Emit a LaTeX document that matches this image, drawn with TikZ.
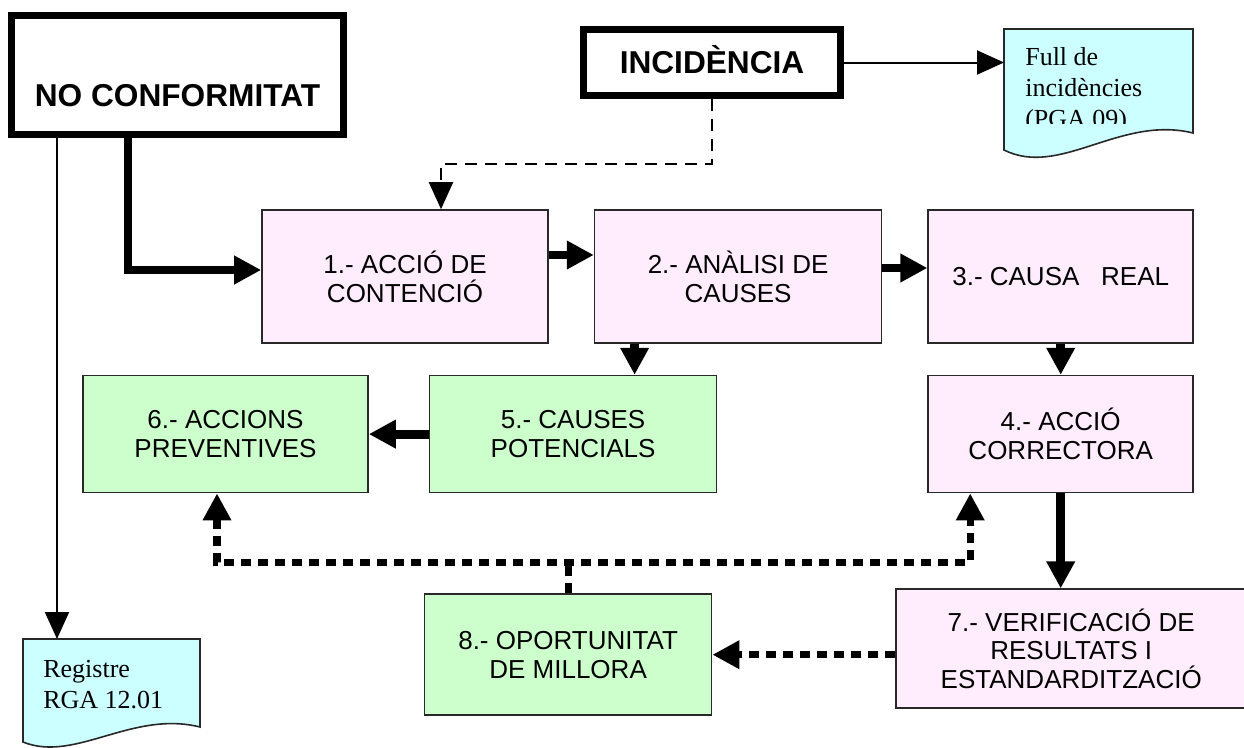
\documentclass[tikz,border=0pt]{standalone}
\usepackage{fontspec}
\setmainfont{Liberation Sans}
\newfontfamily\docserif{Liberation Serif}
\usepackage{tikz}
\usetikzlibrary{arrows.meta, positioning}
\definecolor{boxpink}{RGB}{255,236,252}
\definecolor{boxgreen}{RGB}{204,255,204}
\definecolor{doccyan}{RGB}{204,255,255}
\definecolor{edgegray}{RGB}{40,40,40}
\tikzset{
  stepbox/.style={rectangle, draw=edgegray, line width=0.04cm, align=center,
    font=\fontsize{18.5}{20.5}\selectfont, inner sep=2pt},
  pinkbox/.style={stepbox, fill=boxpink},
  greenbox/.style={stepbox, fill=boxgreen},
  titlebox/.style={rectangle, draw=black, fill=white, line width=0.175cm,
    font=\fontsize{22.5}{27}\selectfont\bfseries, text depth=0pt},
  docframe/.style={rectangle, anchor=north west, inner sep=0pt, outer sep=0pt},
  docshape/.style={draw=edgegray, fill=doccyan, line width=0.04cm},
  doctext/.style={anchor=north west, inner sep=0pt, align=left,
    font=\docserif\fontsize{18.5}{22}\selectfont},
  fatarrow/.style={-{Triangle[length=0.675cm, width=0.675cm]}, line width=0.22cm, line join=miter},
  thinarrow/.style={-{Triangle[length=0.675cm, width=0.6cm]}, line width=0.05cm},
  dasharrow/.style={thinarrow, dash pattern=on 0.3cm off 0.2cm},
  fatdash/.style={line width=0.18cm, dash pattern=on 0.25cm off 0.175cm, line join=miter},
  fatdasharrow/.style={fatdash, -{Triangle[length=0.675cm, width=0.675cm]}}
}
\begin{document}
\begin{tikzpicture}
  \useasboundingbox (0,0) rectangle (31.1,-18.675);

  % Starting points
  \node[titlebox, minimum width=8.3cm, minimum height=2.975cm, text height=1.55cm] (nc) at (4.4375,-1.875) {NO CONFORMITAT};
  \node[titlebox, minimum width=6.425cm, minimum height=1.65cm, text height=0.525cm] (inc) at (17.8,-1.5625) {INCIDÈNCIA};

  % Records
  \node[docframe, minimum width=4.725cm, minimum height=2.6cm] (full) at (25.1,-0.725) {};
  \draw[docshape] (full.north west) -- (full.north east) -- (full.south east)
    .. controls ([xshift=-1.825cm, yshift=0.45cm]full.south east) and ([xshift=1.4cm, yshift=-1.125cm]full.south west) .. ([yshift=-0.425cm]full.south west) -- cycle;
  \begin{scope}
    \clip (full.north west) rectangle ([yshift=0.25cm]full.south east);
    \node[doctext] (fulltxt) at (25.625,-1.175) {Full de\\incidències\\(PGA 09)};
  \end{scope}

  \node[docframe, minimum width=4.425cm, minimum height=2.2cm] (reg) at (0.575,-15.975) {};
  \draw[docshape] (reg.north west) -- (reg.north east) -- (reg.south east)
    .. controls ([xshift=-1.7cm, yshift=0.425cm]reg.south east) and ([xshift=1.3cm, yshift=-0.9cm]reg.south west) .. ([yshift=-0.375cm]reg.south west) -- cycle;
  \node[doctext] (regtxt) at (1.075,-16.5) {Registre\\RGA 12.01};

  % Steps, first row
  \node[pinkbox, minimum width=7.15cm, minimum height=3.325cm] (b1) at (10.125,-6.9125) {1.- ACCIÓ DE\\CONTENCIÓ};
  \node[pinkbox, minimum width=7.175cm, minimum height=3.325cm, right=1.125cm of b1] (b2) {2.- ANÀLISI DE\\CAUSES};
  \node[pinkbox, minimum width=6.625cm, minimum height=3.325cm, right=1.125cm of b2] (b3) {3.- CAUSA\ \ \ REAL};

  % Steps, second row
  \node[pinkbox, minimum width=6.625cm, minimum height=2.925cm, below=0.775cm of b3] (b4) {4.- ACCIÓ\\CORRECTORA};
  \node[greenbox, minimum width=7.175cm, minimum height=2.925cm, below=0.775cm of b2, xshift=-4.125cm] (b5) {5.- CAUSES\\POTENCIALS};
  \node[greenbox, minimum width=7.125cm, minimum height=2.925cm, left=1.5cm of b5] (b6) {6.- ACCIONS\\PREVENTIVES};

  % Steps, last row
  \node[pinkbox, minimum width=8.75cm, minimum height=2.975cm, below=2.375cm of b4, xshift=0.2625cm] (b7) {7.- VERIFICACIÓ DE\\RESULTATS I\\ESTANDARDITZACIÓ};
  \node[greenbox, minimum width=7.175cm, minimum height=3.025cm, left=4.575cm of b7, yshift=-0.15cm] (b8) {8.- OPORTUNITAT\\DE MILLORA};

  % Connections
  \draw[thinarrow] ([xshift=-3.0125cm]nc.south) -- ([xshift=-3.0125cm]nc.south |- reg.north);
  \draw[fatarrow] ([xshift=-1.2375cm]nc.south) |- ([yshift=0.1625cm]b1.west);
  \draw[thinarrow] (inc.east) -- (inc.east -| full.west);
  \draw[dasharrow] (inc.south) -- ++(0,-1.6125cm) -| ([xshift=0.9cm]b1.north);
  \draw[fatarrow] ([yshift=0.5375cm]b1.east) -- ([yshift=0.5375cm]b2.west);
  \draw[fatarrow] ([yshift=0.2125cm]b2.east) -- ([yshift=0.2125cm]b3.west);
  \draw[fatarrow] ([xshift=-2.5875cm]b2.south) -- ([xshift=-2.5875cm]b2.south |- b5.north);
  \draw[fatarrow] (b3.south) -- (b4.north);
  \draw[fatarrow] (b5.west) -- (b6.east);
  \draw[fatarrow] (b4.south) -- (b4.south |- b7.north);
  \draw[fatdasharrow] (b7.west |- b8.east) -- (b8.east);
  \draw[fatdash] (b8.north) -- ++(0,0.775cm) coordinate (split);
  \draw[fatdash, {Triangle[length=0.675cm, width=0.675cm]}-{Triangle[length=0.675cm, width=0.675cm]}]
    ([xshift=-0.2125cm]b6.south) -- ([xshift=-0.2125cm]b6.south |- split)
    -- ([xshift=-2.2625cm]b4.south |- split) -- ([xshift=-2.2625cm]b4.south);
\end{tikzpicture}
\end{document}
